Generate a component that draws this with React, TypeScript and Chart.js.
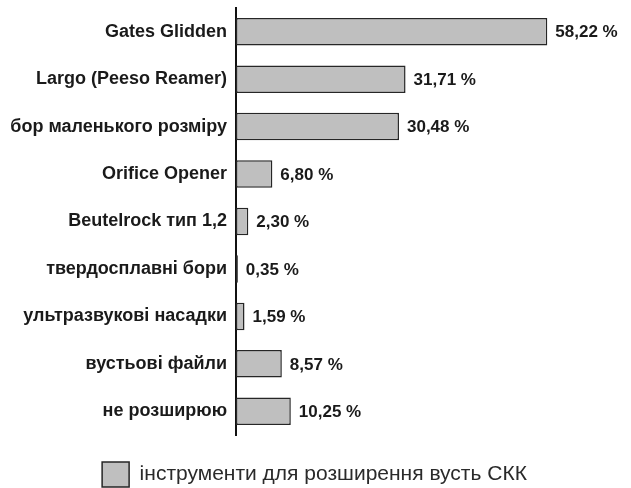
import React, { useEffect, useRef } from "react";
import { Chart, registerables } from "chart.js";

Chart.register(...registerables);

const categories: string[] = [
  "Gates Glidden",
  "Largo (Peeso Reamer)",
  "бор маленького розміру",
  "Orifice Opener",
  "Beutelrock тип 1,2",
  "твердосплавні бори",
  "ультразвукові насадки",
  "вустьові файли",
  "не розширюю",
];

const values: number[] = [58.22, 31.71, 30.48, 6.8, 2.3, 0.35, 1.59, 8.57, 10.25];

const xMax = 73.5;

const seriesLabel = "інструменти для розширення вусть СКК";

const LABEL_FONT = "'Liberation Sans', Arial, sans-serif";
const LEGEND_FONT = "'Liberation Sans', Arial, sans-serif";

const fmt = (v: number) => v.toFixed(2).replace(".", ",") + " %";

const valueLabelPlugin = {
  id: "valueLabels",
  afterDatasetsDraw(chart: any) {
    const ctx = chart.ctx;
    const meta = chart.getDatasetMeta(0);
    ctx.save();
    ctx.font = `bold 17px ${LABEL_FONT}`;
    ctx.fillStyle = "#1a1a1a";
    ctx.textAlign = "left";
    ctx.textBaseline = "middle";
    meta.data.forEach((bar: any, i: number) => {
      const v = chart.data.datasets[0].data[i] as number;
      ctx.fillText(fmt(v), bar.x + 8, bar.y + 1);
    });
    ctx.restore();
  },
};

export default function App() {
  const ref = useRef<HTMLCanvasElement | null>(null);

  useEffect(() => {
    if (!ref.current) return;
    const chart = new Chart(ref.current, {
      type: "bar",
      data: {
        labels: categories,
        datasets: [
          {
            label: seriesLabel,
            data: values,
            backgroundColor: "#bfbfbf",
            borderColor: "#262626",
            borderWidth: 1.5,
            borderSkipped: false,
            barPercentage: 0.58,
            categoryPercentage: 1,
          },
        ],
      },
      options: {
        indexAxis: "y",
        responsive: false,
        animation: false,
        layout: { padding: { top: 8, right: 2, left: 0, bottom: -9 } },
        scales: {
          x: {
            min: 0,
            max: xMax,
            display: true,
            grid: { display: false, drawTicks: false },
            border: { display: false },
            ticks: { display: false },
            afterFit: (s: any) => {
              s.height = 25;
              s.paddingLeft = 0;
              s.paddingRight = 0;
            },
          },
          y: {
            grid: { display: false, drawTicks: false },
            border: { display: true, color: "#111", width: 2 },
            ticks: {
              color: "#1a1a1a",
              padding: 9,
              font: { family: LABEL_FONT, size: 18, weight: "bold" },
            },
            afterFit: (s: any) => {
              s.width = 236;
              s.paddingTop = 0;
              s.paddingBottom = 0;
            },
          },
        },
        plugins: {
          legend: {
            display: true,
            position: "bottom",
            labels: {
              boxWidth: 27,
              boxHeight: 25,
              padding: 2,
              color: "#2a2a2a",
              font: { family: LEGEND_FONT, size: 21 },
            },
          },
          tooltip: { enabled: false },
        },
      },
      plugins: [valueLabelPlugin],
    });
    return () => chart.destroy();
  }, []);

  return (
    <div style={{ position: "absolute", left: 0, top: 0, width: 631, height: 488, background: "#fff" }}>
      <canvas ref={ref} width={631} height={488} style={{ display: "block" }} />
    </div>
  );
}
